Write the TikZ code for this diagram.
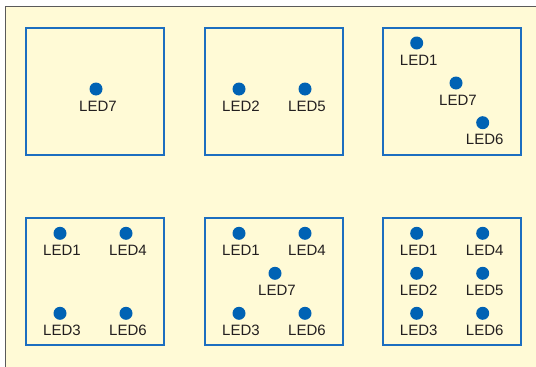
\documentclass[tikz,border=0pt]{standalone}
\usepackage{fontspec}
\setmainfont{Liberation Sans}
\definecolor{bgyellow}{HTML}{FFFAD6}
\definecolor{boxblue}{HTML}{1C6EC0}
\definecolor{dotblue}{HTML}{0062B4}
\definecolor{txtgrey}{HTML}{231F20}
\definecolor{framegrey}{HTML}{5A5A5A}
\tikzset{
  boxframe/.style={draw=boxblue, line width=1.7pt},
  led/.style={circle, fill=dotblue, inner sep=0pt, minimum size=13pt},
  ledlabel/.style={anchor=base, text=txtgrey, inner sep=0pt, font=\fontsize{15}{18}\selectfont},
  outerframe/.style={draw=framegrey, line width=1.5pt}
}
\newcommand{\ledat}[4]{%
  \node[led] (#1) at (#2,#3) {};
  \node[ledlabel] (#1t) at ([xshift=2pt,yshift=-22pt]#1.center) {#4};
}
\begin{document}
\begin{tikzpicture}[x=1pt,y=-1pt]
\useasboundingbox (0,0) rectangle (536,367);
\fill[white] (0,0) rectangle (536,367);
\fill[bgyellow] (5.5,6.5) rectangle (540,370);
\draw[outerframe] (5.5,372) -- (5.5,6.5) -- (540,6.5);
% boxes
\draw[boxframe] (26,28) rectangle (164,155);
\draw[boxframe] (205,28) rectangle (343,155);
\draw[boxframe] (383,28) rectangle (521,155);
\draw[boxframe] (26,218) rectangle (164,345);
\draw[boxframe] (205,218) rectangle (343,345);
\draw[boxframe] (383,218) rectangle (521,345);
% box 1
\ledat{a7}{96}{89}{LED7}
% box 2
\ledat{b2}{239}{89}{LED2}
\ledat{b5}{305}{89}{LED5}
% box 3
\ledat{c1}{416.7}{43}{LED1}
\ledat{c7}{456}{83}{LED7}
\ledat{c6}{482.7}{122.7}{LED6}
% box 4
\ledat{d1}{60}{233.3}{LED1}
\ledat{d4}{126}{233.3}{LED4}
\ledat{d3}{60}{313.3}{LED3}
\ledat{d6}{126}{313.3}{LED6}
% box 5
\ledat{e1}{239}{233.3}{LED1}
\ledat{e4}{305}{233.3}{LED4}
\ledat{e7}{275}{273.3}{LED7}
\ledat{e3}{239}{313.3}{LED3}
\ledat{e6}{305}{313.3}{LED6}
% box 6
\ledat{f1}{416.7}{233.3}{LED1}
\ledat{f4}{482.7}{233.3}{LED4}
\ledat{f2}{416.7}{273.3}{LED2}
\ledat{f5}{482.7}{273.3}{LED5}
\ledat{f3}{416.7}{313.3}{LED3}
\ledat{f6}{482.7}{313.3}{LED6}
\end{tikzpicture}
\end{document}
